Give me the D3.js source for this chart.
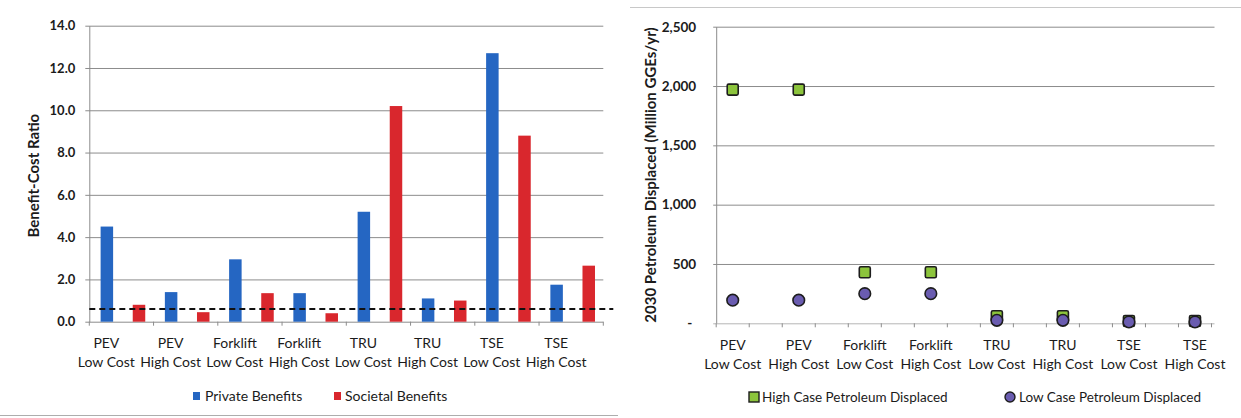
<!DOCTYPE html>
<html>
<head>
<meta charset="utf-8">
<script src="https://cdn.jsdelivr.net/npm/d3@7"></script>
<style>
  body { margin: 0; background: #fff; }
  svg { display: block; }
  text { font-family: Lato, "Open Sans", sans-serif; fill: #1b1b1b; }
</style>
</head>
<body>
<svg id="chart" width="1241" height="418"></svg>
<script>
// Categories shared by both panels (two-line labels)
const categories = [
  ["PEV", "Low Cost"], ["PEV", "High Cost"],
  ["Forklift", "Low Cost"], ["Forklift", "High Cost"],
  ["TRU", "Low Cost"], ["TRU", "High Cost"],
  ["TSE", "Low Cost"], ["TSE", "High Cost"]
];

// Left panel: benefit-cost ratios
const privateBenefits  = [4.5, 1.4, 2.95, 1.35, 5.2, 1.1, 12.7, 1.75];
const societalBenefits = [0.8, 0.45, 1.35, 0.4, 10.2, 1.0, 8.8, 2.65];
const breakEvenLine = 0.6;
const ratioTicks = [0, 2, 4, 6, 8, 10, 12, 14];

// Right panel: 2030 petroleum displaced (million GGEs/yr)
const highCase = [1970, 1970, 430, 430, 60, 60, 20, 20];
const lowCase  = [195, 195, 250, 250, 25, 25, 12, 12];
const petroleumTicks = [0, 500, 1000, 1500, 2000, 2500];

const svg = d3.select("#chart");
const gridColor = "#8c8c8c";
const blue = "#2566c2", red = "#d9272d";
const green = "#8cc43c", purple = "#6a5cb0";
const titleFont = "'Liberation Sans', Arial, sans-serif";

// ---------------- Left panel ----------------
{
  const L = 89.3, R = 603.3, T = 25.7, B = 321.7;
  const y = d3.scaleLinear().domain([0, 14]).range([B, T]);
  // 16 slots: private bar in even slot, societal bar in odd slot
  const slot = d3.scaleBand().domain(d3.range(16)).range([L, R]);
  const bw = slot.bandwidth();
  const barW = 12.5;

  const g = svg.append("g");

  // y axis with gridlines
  const yAxis = g.append("g").attr("transform", `translate(${L},0)`)
    .call(d3.axisLeft(y).tickValues(ratioTicks).tickFormat(d3.format(".1f"))
      .tickSizeInner(-(R - L)).tickSizeOuter(0).tickPadding(14));
  yAxis.select(".domain").attr("stroke", gridColor);
  yAxis.selectAll(".tick line").attr("x1", -4).attr("stroke", gridColor);
  yAxis.selectAll(".tick text").attr("font-size", 13).attr("font-weight", 700)
    .attr("font-family", "Lato, sans-serif").attr("fill", "#1b1b1b");

  // category tick marks on the baseline
  g.selectAll(".ctick").data(d3.range(9)).join("line")
    .attr("x1", i => i < 8 ? slot(i * 2) : R).attr("x2", i => i < 8 ? slot(i * 2) : R)
    .attr("y1", B).attr("y2", B + 4).attr("stroke", gridColor);

  // bars
  g.selectAll(".priv").data(privateBenefits).join("rect")
    .attr("x", (d, i) => slot(i * 2) + (bw - barW) / 2 + 1.5)
    .attr("y", d => y(d)).attr("width", barW).attr("height", d => B - y(d))
    .attr("fill", blue);
  g.selectAll(".soc").data(societalBenefits).join("rect")
    .attr("x", (d, i) => slot(i * 2 + 1) + (bw - barW) / 2 + 1.5)
    .attr("y", d => y(d)).attr("width", barW).attr("height", d => B - y(d))
    .attr("fill", red);

  // break-even dashed line
  g.append("line").attr("x1", L).attr("x2", R + 10)
    .attr("y1", y(breakEvenLine)).attr("y2", y(breakEvenLine))
    .attr("stroke", "#111").attr("stroke-width", 2).attr("stroke-dasharray", "6,4");

  // category labels
  const lab = g.selectAll(".clab").data(categories).join("text")
    .attr("text-anchor", "middle").attr("font-size", 14)
    .attr("transform", (d, i) => `translate(${slot(i * 2) + bw / 2 + 1},0)`);
  lab.append("tspan").attr("x", 0).attr("y", 348).text(d => d[0]);
  lab.append("tspan").attr("x", 0).attr("y", 367).text(d => d[1]);

  // y title
  g.append("text").attr("transform", `translate(39,${(T + B) / 2 + 2}) rotate(-90)`)
    .attr("text-anchor", "middle").attr("font-size", 15).attr("font-weight", 700)
    .attr("font-family", titleFont)
    .text("Benefit-Cost Ratio");

  // legend
  const lg = g.append("g").attr("transform", "translate(0,396)");
  lg.append("rect").attr("x", 193).attr("y", -4).attr("width", 7).attr("height", 8).attr("fill", blue);
  lg.append("text").attr("x", 205).attr("y", 5).attr("font-size", 14).text("Private Benefits");
  lg.append("rect").attr("x", 334).attr("y", -4).attr("width", 7).attr("height", 8).attr("fill", red);
  lg.append("text").attr("x", 345).attr("y", 5).attr("font-size", 14).text("Societal Benefits");

  // frame line under the panel
  g.append("line").attr("x1", 0).attr("x2", 618).attr("y1", 415.5).attr("y2", 415.5)
    .attr("stroke", "#777").attr("stroke-opacity", 0.6);
}

// ---------------- Right panel ----------------
{
  const L = 716.2, R = 1211.5, T = 26.7, B = 323.3;
  const y = d3.scaleLinear().domain([0, 2500]).range([B, T]);
  // 15 slots; each category sits half a slot after an even slot boundary
  const x = d3.scaleLinear().domain([0, 15]).range([L, R]);
  const pos = i => x(i * 2 + 0.5);

  const g = svg.append("g");

  // top separator rule
  g.append("line").attr("x1", 630).attr("x2", 1241).attr("y1", 7.5).attr("y2", 7.5)
    .attr("stroke", "#c8c8c8");

  const fmt = d => d === 0 ? "-" : d3.format(",")(d);
  const yAxis = g.append("g").attr("transform", `translate(${L},0)`)
    .call(d3.axisLeft(y).tickValues(petroleumTicks).tickFormat(fmt)
      .tickSizeInner(-(R - L + 3)).tickSizeOuter(0).tickPadding(20));
  yAxis.select(".domain").attr("stroke", gridColor);
  yAxis.selectAll(".tick line").attr("x1", -3).attr("stroke", d => d === 0 ? "#b5b5b5" : gridColor);
  yAxis.selectAll(".tick text").attr("font-size", 13.5).attr("font-weight", 700)
    .attr("fill", "#1b1b1b").attr("dx", d => d === 0 ? -4 : 0);

  // category tick marks
  g.selectAll(".ctick").data(d3.range(16)).join("line")
    .attr("x1", d => x(d)).attr("x2", d => x(d))
    .attr("y1", B).attr("y2", B + 4).attr("stroke", gridColor);

  // markers: high case squares, low case circles drawn on top
  const sq = 11;
  g.selectAll(".hi").data(highCase).join("rect")
    .attr("x", (d, i) => pos(i) - sq / 2).attr("y", d => y(d) - sq / 2)
    .attr("width", sq).attr("height", sq).attr("rx", 1.5)
    .attr("fill", green).attr("stroke", "#1d1d1d").attr("stroke-width", 1.6);
  g.selectAll(".lo").data(lowCase).join("circle")
    .attr("cx", (d, i) => pos(i)).attr("cy", d => y(d)).attr("r", 5.8)
    .attr("fill", purple).attr("stroke", "#1d1d1d").attr("stroke-width", 1.6);

  // category labels
  const lab = g.selectAll(".clab").data(categories).join("text")
    .attr("text-anchor", "middle").attr("font-size", 14)
    .attr("transform", (d, i) => `translate(${pos(i)},0)`);
  lab.append("tspan").attr("x", 0).attr("y", 350).text(d => d[0]);
  lab.append("tspan").attr("x", 0).attr("y", 369).text(d => d[1]);

  // y title
  g.append("text").attr("transform", `translate(656,${(T + B) / 2}) rotate(-90)`)
    .attr("text-anchor", "middle").attr("font-size", 15).attr("font-weight", 700)
    .attr("font-family", titleFont)
    .text("2030 Petroleum Displaced (Million GGEs/yr)");

  // legend
  const lg = g.append("g").attr("transform", "translate(0,397)");
  lg.append("rect").attr("x", 749).attr("y", -5).attr("width", 10).attr("height", 10)
    .attr("fill", green).attr("stroke", "#1d1d1d").attr("stroke-width", 1.4);
  lg.append("text").attr("x", 762).attr("y", 5).attr("font-size", 13.5).text("High Case Petroleum Displaced");
  lg.append("circle").attr("cx", 1010).attr("cy", 0).attr("r", 5)
    .attr("fill", purple).attr("stroke", "#1d1d1d").attr("stroke-width", 1.4);
  lg.append("text").attr("x", 1019).attr("y", 5).attr("font-size", 13.5).text("Low Case Petroleum Displaced");
}
</script>
</body>
</html>
